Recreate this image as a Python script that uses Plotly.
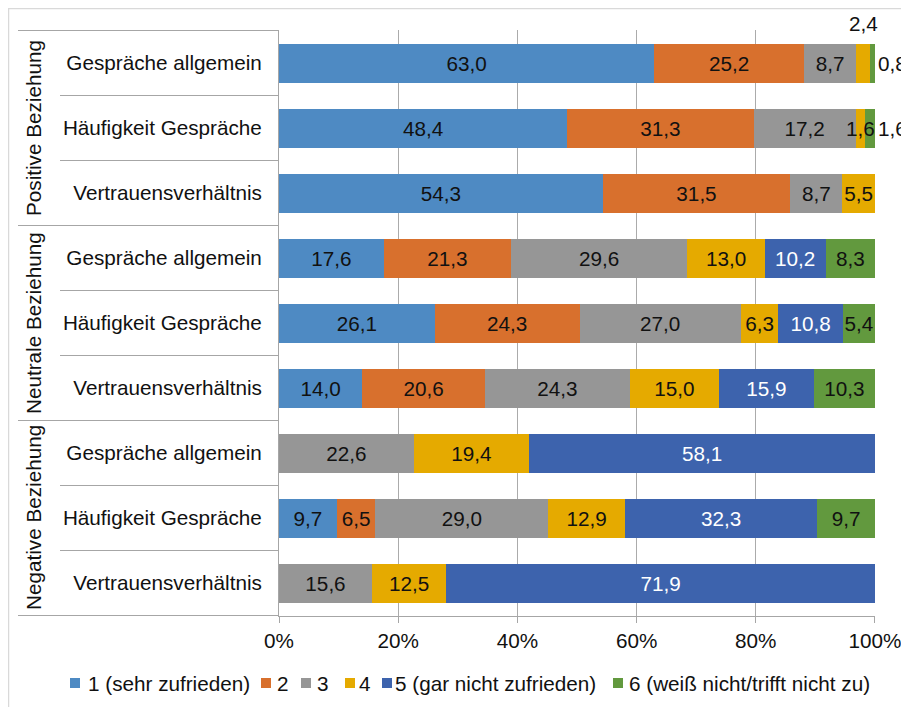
import plotly.graph_objects as go

groups = ["Positive Beziehung", "Neutrale Beziehung", "Negative Beziehung"]
items = ["Gespräche allgemein", "Häufigkeit Gespräche", "Vertrauensverhältnis"]

series_names = ["1 (sehr zufrieden)", "2", "3", "4",
                "5 (gar nicht zufrieden)", "6 (weiß nicht/trifft nicht zu)"]
colors = ["#4E8AC3", "#D8702D", "#969696", "#E5AA00", "#3D63AD", "#62993E"]
text_colors = ["#111", "#111", "#111", "#111", "white", "#111"]

# rows top to bottom: positive (3), neutral (3), negative (3)
s1 = [63.0, 48.4, 54.3, 17.6, 26.1, 14.0, None, 9.7, None]
s2 = [25.2, 31.3, 31.5, 21.3, 24.3, 20.6, None, 6.5, None]
s3 = [8.7, 17.2, 8.7, 29.6, 27.0, 24.3, 22.6, 29.0, 15.6]
s4 = [2.4, 1.6, 5.5, 13.0, 6.3, 15.0, 19.4, 12.9, 12.5]
s5 = [None, None, None, 10.2, 10.8, 15.9, 58.1, 32.3, 71.9]
s6 = [0.8, 1.6, None, 8.3, 5.4, 10.3, None, 9.7, None]
series = [s1, s2, s3, s4, s5, s6]

x_ticks = [0, 20, 40, 60, 80, 100]
x_ticktext = ["0%", "20%", "40%", "60%", "80%", "100%"]

# labels not drawn by the bar itself
outside = {(5, 0), (5, 1)}          # right of the bar end
overlay = {(3, 0): 40, (3, 1): 0}   # annotation on top, with y shift

FONT = "Liberation Sans, Arial, sans-serif"
FS = 20.7
W, H = 909, 707
OFF = 8  # page body margin
L, R, T, B = 279 - OFF, 34 + OFF, 30 - OFF, 91 + OFF
PW, PH = W - L - R, H - T - B


# page pixel -> paper coordinate
def px(xp):
    return (xp - OFF - L) / PW


def py(yp):
    return (H - B - (yp - OFF)) / PH


keys = [f"{g}|{it}" for g in groups for it in items]
labels = [it for g in groups for it in items]


def fmt(v):
    return f"{v:.1f}".replace(".", ",")


fig = go.Figure()
for si, (name, vals) in enumerate(zip(series_names, series)):
    texts, pos = [], []
    for ri, v in enumerate(vals):
        if v is None or (si, ri) in overlay:
            texts.append("")
        else:
            texts.append(fmt(v))
        pos.append("outside" if (si, ri) in outside else "inside")
    fig.add_trace(go.Bar(
        y=keys, x=vals, name=name, orientation="h",
        marker=dict(color=colors[si], line=dict(width=0)),
        text=texts, textposition=pos, textangle=0,
        constraintext="none", insidetextanchor="middle",
        insidetextfont=dict(color=text_colors[si], size=FS, family=FONT),
        outsidetextfont=dict(color="#111", size=FS, family=FONT),
        cliponaxis=False, showlegend=False, hoverinfo="skip",
    ))

# labels drawn on top of the bars
for (si, ri), shift in overlay.items():
    row_total = sum(s[ri] or 0 for s in series)
    start = sum(series[k][ri] or 0 for k in range(si))
    xc = (start + series[si][ri] / 2) / row_total * 100
    fig.add_annotation(x=xc, y=keys[ri], xref="x", yref="y",
                       text=fmt(series[si][ri]), showarrow=False, yshift=shift,
                       font=dict(size=FS, color="#111", family=FONT))

line_col = "#A6A6A6"
shapes = []
# category separators in the label area
for k in range(len(keys) + 1):
    is_group = k % 3 == 0
    shapes.append(dict(type="line", xref="paper", yref="y",
                       x0=px(18) if is_group else px(60), x1=0,
                       y0=k - 0.5, y1=k - 0.5,
                       line=dict(color=line_col, width=1)))
# outer chart border
shapes.append(dict(type="rect", xref="paper", yref="paper",
                   x0=px(8.5), x1=px(930), y0=py(8.5), y1=py(730),
                   line=dict(color="#D9D9D9", width=1.5)))

# group labels
for gi, g in enumerate(groups):
    fig.add_annotation(x=px(33), y=gi * 3 + 1, xref="paper", yref="y",
                       xanchor="center", yanchor="middle",
                       text=g, textangle=-90, showarrow=False,
                       font=dict(size=FS, color="#111", family=FONT))

# legend
sq_left = [70, 261, 301, 345, 382, 613]
txt_left = [86, 275, 315, 357, 393, 627]
for name, c, sx, tx in zip(series_names, colors, sq_left, txt_left):
    shapes.append(dict(type="rect", xref="paper", yref="paper",
                       x0=px(sx), x1=px(sx + 10), y0=py(688), y1=py(678),
                       fillcolor=c, line=dict(width=0)))
    fig.add_annotation(x=px(tx), y=py(683), xref="paper", yref="paper",
                       xanchor="left", yanchor="middle", text=name, showarrow=False,
                       font=dict(size=FS, color="#111", family=FONT))

fig.update_layout(
    width=W, height=H, barmode="stack", barnorm="percent", bargap=0.4,
    margin=dict(l=L, r=R, t=T, b=B),
    plot_bgcolor="white", paper_bgcolor="white",
    font=dict(family=FONT, size=FS, color="#111"),
    shapes=shapes,
    showlegend=False,
)
fig.update_xaxes(range=[0, 100.001], tickvals=x_ticks, ticktext=x_ticktext,
                 showgrid=True, gridcolor="#ABABAB", gridwidth=1,
                 showline=True, linecolor=line_col, linewidth=1,
                 ticks="outside", ticklen=6, tickcolor=line_col,
                 zeroline=False, tickfont=dict(size=FS))
fig.update_yaxes(categoryorder="array", categoryarray=keys,
                 tickvals=keys, ticktext=labels, autorange="reversed",
                 showline=True, linecolor=line_col, linewidth=1,
                 showgrid=False, ticks="", ticklabelstandoff=12,
                 tickfont=dict(size=FS))

fig.write_html("out.html")
